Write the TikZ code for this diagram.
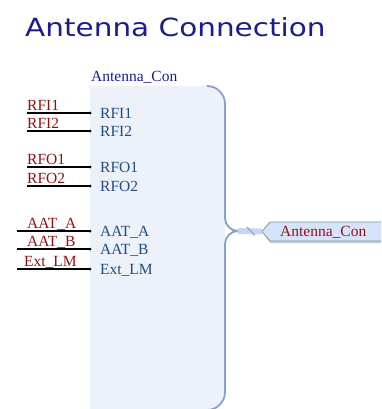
\documentclass[tikz,border=0pt]{standalone}
\usepackage{fontspec}
\setmainfont{Liberation Serif}
\newfontfamily\titlefont{DejaVu Sans}
\definecolor{titleblue}{HTML}{1C1C8C}
\definecolor{boxfill}{HTML}{ECF1FA}
\definecolor{boxedge}{HTML}{8C9DCC}
\definecolor{pinblue}{HTML}{1F4E80}
\definecolor{netred}{HTML}{8B1414}
\definecolor{portfill}{HTML}{D6E4FB}
\definecolor{portedge}{HTML}{7F8FB0}
\definecolor{busfill}{HTML}{C8D5F2}
\begin{document}
\begin{tikzpicture}[x=1pt,y=-1pt,
  lbl/.style={font=\fontsize{15.5}{17}\selectfont, inner sep=0pt, anchor=base west},
  pinname/.style={lbl, text=pinblue},
  netname/.style={lbl, text=netred},
  pinline/.style={line width=1.6pt, black},
  pindot/.style={fill=black, circle, inner sep=0pt, minimum size=3pt}]
\useasboundingbox (0,0) rectangle (381,409);
\begin{scope}
\clip (0,0) rectangle (381,409);
% title
\node[anchor=base west, inner sep=0pt, text=titleblue, font=\titlefont\fontsize{25}{28}\selectfont, xscale=1.18] (title) at (25,37) {Antenna Connection};
% box fill
\fill[boxfill] (90,86) -- (207,86) arc[start angle=-90, end angle=0, radius=18] -- (225,392) arc[start angle=0, end angle=90, radius=18] -- (90,410) -- cycle;
% brace edge
\draw[boxedge, line width=1.8pt] (207,86) arc[start angle=-90, end angle=0, radius=18]
  -- (225,218) arc[start angle=180, end angle=90, radius=13] coordinate (tip)
  arc[start angle=270, end angle=180, radius=13] -- (225,392) arc[start angle=0, end angle=90, radius=18];
\node[lbl, text=titleblue] (boxname) at (91,82) {Antenna\_Con};
% port
\coordinate (pt) at (262,231.5);
\fill[gray!40] (270,224) -- (264,233.5) -- (270,243) -- (390,243) -- (390,224) -- cycle;
\draw[portedge, fill=portfill, line width=0.8pt] (270,222) -- (pt) -- (270,241) -- (390,241) -- (390,222) -- cycle;
\node[netname] (portname) at (280,236) {Antenna\_Con};
% bus
\draw[busfill, line width=6pt] (tip) -- (pt);
\draw[boxedge, line width=1pt] (247,227) -- (255,235.5);
% pins
\foreach \n/\y/\xs in {RFI1/113/27, RFI2/131/27, RFO1/167/27, RFO2/186/27, AAT\_A/231/17, AAT\_B/249/17, Ext\_LM/269/17}{
  \coordinate (s\y) at (\xs,\y);
  \node[pindot] (d\y) at (90,\y) {};
  \draw[pinline] (s\y) -- (d\y.center);
  \node[pinname] (i\y) at (100,\y+5.5) {\n};
}
\node[netname] at (27,110.5) (n113) {RFI1};
\node[netname] at (27,128.5) (n131) {RFI2};
\node[netname] at (27,164.5) (n167) {RFO1};
\node[netname] at (27,183.5) (n186) {RFO2};
\node[netname] at (27,228.5) (n231) {AAT\_A};
\node[netname] at (27,246.5) (n249) {AAT\_B};
\node[netname] at (24,266.5) (n269) {Ext\_LM};
\end{scope}
\end{tikzpicture}
\end{document}
